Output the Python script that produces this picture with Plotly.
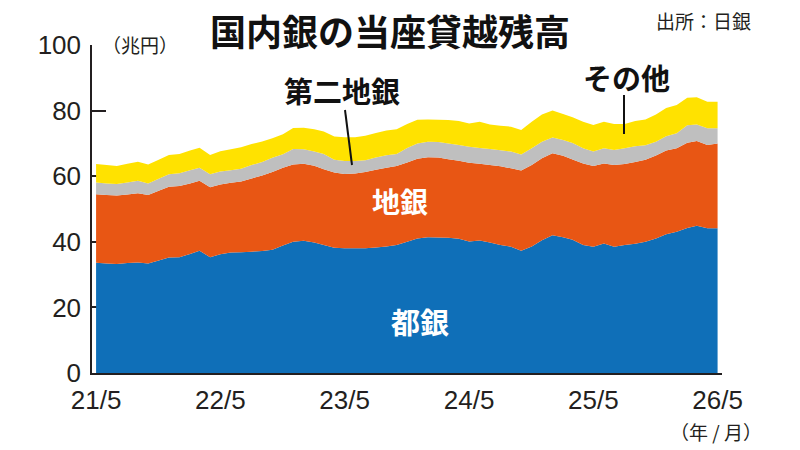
import pandas as pd
import plotly.graph_objects as go

months = pd.date_range("2021-05-01", periods=61, freq="MS")

toshigin = [33.6, 33.4, 33.2, 33.5, 33.7, 33.4, 34.3, 35.2, 35.3, 36.3, 37.3, 35.3,
            36.2, 36.7, 36.8, 37.0, 37.2, 37.6, 38.9, 40.0, 40.3, 39.8, 39.0, 38.2,
            38.0, 38.0, 38.0, 38.3, 38.6, 39.0, 40.0, 41.0, 41.4, 41.3, 41.2, 40.9,
            40.1, 40.4, 39.8, 39.0, 38.5, 37.3, 38.6, 40.5, 42.0, 41.4, 40.6, 39.0,
            38.5, 39.5, 38.5, 39.0, 39.4, 40.0, 41.0, 42.3, 43.1, 44.2, 44.9, 44.1, 44.1]
chigin = [20.9, 20.9, 20.9, 20.9, 21.1, 20.9, 21.3, 21.6, 21.7, 21.5, 21.3, 21.3,
          21.3, 21.3, 21.6, 22.3, 23.0, 23.7, 23.7, 23.6, 23.5, 23.4, 23.1, 22.9,
          22.7, 22.8, 23.3, 23.7, 24.0, 24.1, 24.2, 24.3, 24.4, 24.4, 24.0, 23.8,
          24.0, 23.4, 23.6, 24.0, 23.9, 24.4, 24.8, 25.0, 25.0, 24.8, 24.5, 24.9,
          24.6, 24.4, 24.9, 24.7, 24.9, 25.0, 25.3, 25.5, 25.4, 26.0, 25.8, 25.4, 25.9]
daini = [3.6, 3.5, 3.5, 3.7, 3.8, 3.5, 3.6, 3.8, 3.9, 4.0, 4.0, 4.0,
         3.9, 3.8, 3.9, 4.1, 4.1, 4.3, 4.1, 4.7, 4.4, 4.3, 4.7, 3.9,
         3.9, 3.8, 3.6, 3.7, 3.8, 3.7, 4.4, 4.7, 4.7, 4.7, 4.8, 4.8,
         4.9, 4.8, 4.9, 4.9, 5.1, 4.9, 5.1, 5.0, 4.8, 4.8, 5.0, 4.6,
         4.4, 4.6, 4.6, 4.8, 4.8, 4.4, 4.2, 4.4, 4.6, 5.3, 5.1, 5.1, 4.6]
sonota = [5.6, 5.6, 5.5, 5.7, 5.8, 5.8, 5.8, 5.9, 5.9, 6.0, 6.1, 5.9,
          6.2, 6.4, 6.5, 6.4, 6.3, 6.0, 6.1, 6.4, 6.6, 6.8, 6.8, 7.1,
          7.3, 7.3, 7.4, 7.5, 7.5, 7.5, 7.3, 7.2, 6.8, 6.8, 7.1, 7.3,
          7.1, 8.0, 7.5, 7.5, 7.6, 7.5, 8.1, 8.3, 8.2, 8.0, 7.9, 8.1,
          8.1, 8.1, 7.9, 7.4, 7.7, 7.9, 8.3, 8.6, 8.6, 8.4, 8.3, 8.1, 8.1]

series_names = ["都銀", "地銀", "第二地銀", "その他"]
series_colors = ["#0f6fb8", "#e85614", "#bfbfbf", "#ffe200"]

tick_dates = ["2021-05-01", "2022-05-01", "2023-05-01", "2024-05-01", "2025-05-01", "2026-05-01"]
tick_text = ["21/5", "22/5", "23/5", "24/5", "25/5", "26/5"]
y_ticks = [0, 20, 40, 60, 80, 100]

INK = "#231f20"
NUM_FONT = "Liberation Sans"
JP_FONT = "Noto Sans CJK JP"

fig = go.Figure()
for name, vals, col in zip(series_names, [toshigin, chigin, daini, sonota], series_colors):
    fig.add_trace(go.Scatter(
        x=months, y=vals, name=name, mode="none", stackgroup="banks",
        fillcolor=col, line=dict(width=0, color=col), hoverinfo="x+y+name",
    ))

# plot area in pixels
L, R, T, B = 92, 722, 45, 373

def px(x):
    return (x - L) / (R - L)

def py(y):
    return (B - y) / (B - T)

annos = [
    dict(text="<b>国内銀の当座貸越残高</b>", x=px(390), y=py(30), size=36, color="#111111", xanchor="center"),
    dict(text="出所：日銀", x=px(753), y=py(21), size=19, color=INK, xanchor="right"),
    dict(text="（兆円）", x=px(100), y=py(44), size=19, color=INK, xanchor="left"),
    dict(text="（年 / 月）", x=px(764), y=py(431), size=19, color=INK, xanchor="right"),
    dict(text="<b>都銀</b>", x=px(420), y=py(321), size=29, color="#ffffff", xanchor="center"),
    dict(text="<b>地銀</b>", x=px(400), y=py(201), size=28, color="#ffffff", xanchor="center"),
    dict(text="<b>第二地銀</b>", x=px(342), y=py(90), size=29, color="#111111", xanchor="center"),
    dict(text="<b>その他</b>", x=px(626), y=py(77), size=29, color="#111111", xanchor="center"),
]
for a in annos:
    fig.add_annotation(text=a["text"], x=a["x"], y=a["y"], xref="paper", yref="paper",
                       xanchor=a["xanchor"], yanchor="middle", showarrow=False,
                       font=dict(family=JP_FONT, size=a["size"], color=a["color"]))

fig.add_shape(type="line", xref="paper", yref="paper", x0=px(345), y0=py(110), x1=px(352), y1=py(165),
              line=dict(color="#111111", width=2))
fig.add_shape(type="line", xref="paper", yref="paper", x0=px(624), y0=py(95), x1=px(624), y1=py(134),
              line=dict(color="#111111", width=2))

fig.update_layout(
    width=800, height=450,
    margin=dict(l=L, r=800 - R, t=T, b=450 - B),
    paper_bgcolor="white", plot_bgcolor="white",
    showlegend=False,
    xaxis=dict(
        type="date", range=["2021-04-19", "2026-05-14"],
        tickvals=tick_dates, ticktext=tick_text, ticks="",
        showline=True, linecolor=INK, linewidth=1.5, showgrid=False, zeroline=False,
        tickfont=dict(family=NUM_FONT, size=26, color=INK), ticklabelstandoff=3,
        layer="above traces",
    ),
    yaxis=dict(
        range=[0, 100], tickvals=y_ticks, ticks="inside", ticklen=14, tickwidth=1.5, tickcolor=INK,
        showline=True, linecolor=INK, linewidth=1.5, showgrid=False, zeroline=False,
        tickfont=dict(family=NUM_FONT, size=26, color=INK), ticklabelstandoff=4,
        layer="below traces",
    ),
)

fig.write_html("out.html")
